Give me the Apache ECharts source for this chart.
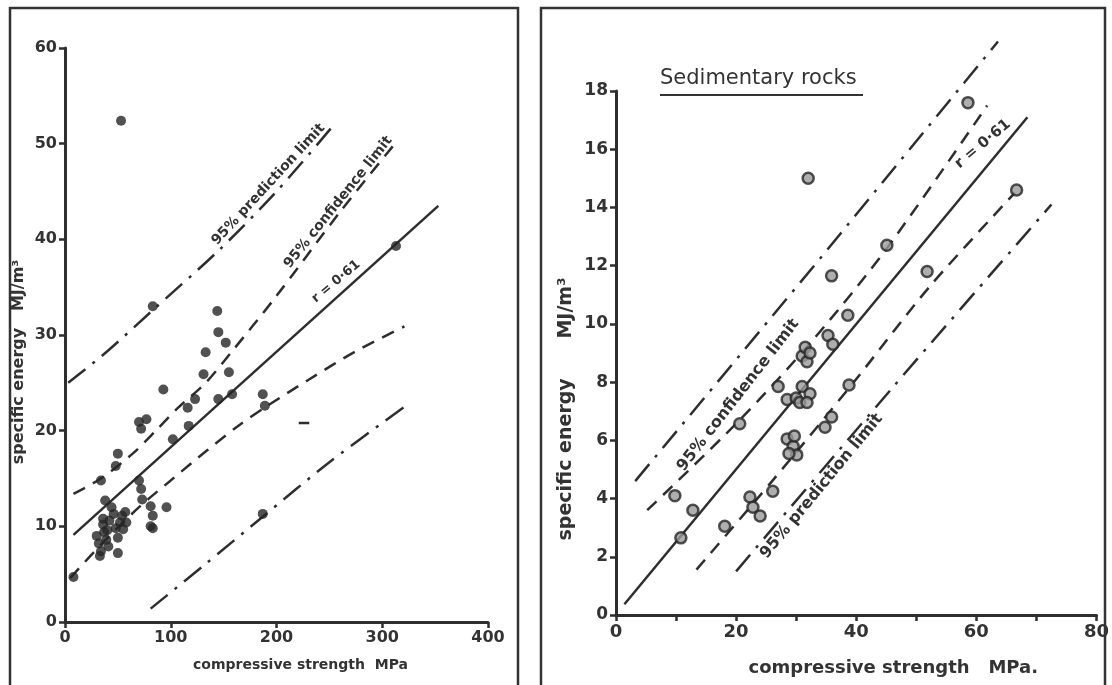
<!DOCTYPE html>
<html>
<head>
<meta charset="utf-8">
<script src="https://cdn.jsdelivr.net/npm/echarts@6/dist/echarts.min.js"></script>
<style>
  html, body { margin: 0; background: #fff; }
  #chart { width: 1112px; height: 685px; }
</style>
</head>
<body>
<div id="chart"></div>
<script>
// ---- left panel: all rocks ----
const allPoints = [
  [8, 4.7], [34, 14.8], [48, 16.3], [50, 17.6], [38, 12.7],
  [30, 9.0], [32, 8.2], [34, 7.4], [33, 6.9], [36, 10.2], [37, 9.4], [39, 8.6],
  [41, 7.9], [42, 10.6], [44, 12.0], [46, 11.3], [48, 9.8], [50, 8.8], [52, 10.4],
  [54, 11.1], [55, 9.7], [57, 11.5], [58, 10.4], [50, 7.2], [36, 10.8], [40, 9.6],
  [70, 14.8], [72, 13.9], [73, 12.8], [70, 20.9], [77, 21.2], [72, 20.2],
  [81, 12.1], [83, 11.1], [81, 10.0], [83, 9.8], [96, 12.0], [93, 24.3],
  [102, 19.1], [116, 22.4], [123, 23.3], [117, 20.5], [133, 28.2], [131, 25.9],
  [144, 32.5], [145, 30.3], [152, 29.2], [145, 23.3], [155, 26.1], [158, 23.8],
  [187, 23.8], [189, 22.6], [187, 11.3], [83, 33.0], [53, 52.4], [313, 39.3]
];
const allFit = [[8, 9.1], [353, 43.5]];
const allConfHigh = [[8, 13.4], [34, 15.0], [64, 17.6], [86, 20.0], [106, 22.3], [133, 25.0],
  [158, 28.3], [198, 33.8], [261, 43.0], [312, 50.0]];
const allConfLow = [[5, 4.6], [35, 8.2], [70, 12.0], [100, 14.8], [135, 18.0], [165, 20.6],
  [190, 22.5], [230, 25.3], [275, 28.3], [321, 30.9]];
const allPredHigh = [[3, 25.0], [40, 28.3], [82, 32.5], [145, 38.8], [200, 45.0], [253, 51.8]];
const allPredLow = [[81, 1.4], [130, 5.8], [187, 11.0], [250, 16.7], [321, 22.5]];
const strayMark = [[221, 20.8], [231, 20.8]];

// ---- right panel: sedimentary rocks ----
const sedPoints = [
  [9.8, 4.1], [12.8, 3.6], [10.8, 2.65], [18.1, 3.05], [20.6, 6.57], [22.3, 4.05],
  [22.8, 3.7], [24.0, 3.4], [26.1, 4.25],
  [28.5, 6.05], [29.5, 5.8], [30.1, 5.5], [28.8, 5.55], [29.7, 6.15],
  [34.8, 6.45], [35.9, 6.8],
  [27.0, 7.85], [28.5, 7.4], [30.0, 7.45], [31.0, 7.85], [32.3, 7.6], [30.6, 7.3], [31.8, 7.3],
  [31.0, 8.9], [31.8, 8.7], [31.5, 9.2], [32.3, 9.0], [35.3, 9.6], [36.1, 9.3],
  [38.6, 10.3], [38.8, 7.9], [35.9, 11.65], [45.1, 12.7], [51.8, 11.8],
  [32.0, 15.0], [66.7, 14.6], [58.6, 17.6]
];
const sedFit = [[1.4, 0.37], [68.5, 17.1]];
const sedConfHigh = [[5.2, 3.6], [20.6, 6.7], [33, 9.5], [45.1, 12.6], [61.8, 17.5]];
const sedConfLow = [[13.4, 1.56], [26, 4.6], [39.4, 7.95], [52.3, 11.3], [66.4, 14.5]];
const sedPredHigh = [[3.2, 4.6], [33, 12.0], [63.6, 19.7]];
const sedPredLow = [[20, 1.5], [46, 7.8], [72.5, 14.1]];

const ink = '#2e2e2e';
const font = 'DejaVu Sans';
const dashed = [13, 9];
const dashDot = [22, 9, 3, 9];

function valueAxis(grid, min, max, interval, labelSize, extra) {
  return Object.assign({
    type: 'value', gridIndex: grid, min: min, max: max, interval: interval,
    splitLine: { show: false },
    axisLine: { show: true, onZero: false, lineStyle: { color: ink, width: 3 } },
    axisTick: { show: true, length: 6, lineStyle: { color: ink, width: 2.5 } },
    axisLabel: { color: '#333', fontFamily: font, fontWeight: 'bold', fontSize: labelSize, margin: 8 }
  }, extra);
}

function line(grid, data, type, smooth) {
  return {
    type: 'line', xAxisIndex: grid, yAxisIndex: grid, data: data,
    symbol: 'none', smooth: smooth ? 0.3 : false, clip: false, silent: true,
    lineStyle: { color: ink, width: 2.5, type: type }
  };
}

const chart = echarts.init(document.getElementById('chart'));

chart.setOption({
  animation: false,
  backgroundColor: '#fff',
  grid: [
    { left: 65, top: 48, width: 423, height: 574 },
    { left: 616, top: 91, width: 481, height: 524 }
  ],
  xAxis: [
    valueAxis(0, 0, 400, 100, 16, {
      name: 'compressive strength  MPa', nameLocation: 'middle', nameGap: 36,
      nameTextStyle: { color: '#333', fontFamily: font, fontWeight: 'bold', fontSize: 14, padding: [0, 0, 0, 48] }
    }),
    valueAxis(1, 0, 80, 10, 18, {
      name: 'compressive strength   MPa.', nameLocation: 'middle', nameGap: 44,
      nameTextStyle: { color: '#333', fontFamily: font, fontWeight: 'bold', fontSize: 18, padding: [0, 0, 0, 74] },
      axisLabel: {
        color: '#333', fontFamily: font, fontWeight: 'bold', fontSize: 18, margin: 8,
        formatter: function (v) { return v % 20 === 0 ? String(v) : ''; }
      }
    })
  ],
  yAxis: [
    valueAxis(0, 0, 60, 10, 16, {
      name: 'specific energy   MJ/m³', nameLocation: 'middle', nameGap: 38,
      nameTextStyle: { color: '#333', fontFamily: font, fontWeight: 'bold', fontSize: 16, padding: [0, 54, 0, 0] }
    }),
    valueAxis(1, 0, 18, 2, 17, {
      name: 'specific energy      MJ/m³', nameLocation: 'middle', nameGap: 40,
      nameTextStyle: { color: '#333', fontFamily: font, fontWeight: 'bold', fontSize: 19, padding: [0, 112, 0, 0] }
    })
  ],
  series: [
    line(0, allFit, 'solid', false),
    line(0, allConfHigh, dashed, true),
    line(0, allConfLow, dashed, true),
    line(0, allPredHigh, dashDot, true),
    line(0, allPredLow, dashDot, true),
    line(0, strayMark, 'solid', false),
    {
      type: 'scatter', xAxisIndex: 0, yAxisIndex: 0, data: allPoints, z: 5,
      symbol: 'circle', symbolSize: 10, itemStyle: { color: '#262626' }
    },
    line(1, sedFit, 'solid', false),
    line(1, sedConfHigh, dashed, true),
    line(1, sedConfLow, dashed, true),
    line(1, sedPredHigh, dashDot, false),
    line(1, sedPredLow, dashDot, true),
    {
      type: 'scatter', xAxisIndex: 1, yAxisIndex: 1, data: sedPoints, z: 5,
      symbol: 'circle', symbolSize: 11,
      itemStyle: { color: '#9a9a9a', borderColor: '#262626', borderWidth: 2.5 }
    }
  ]
});

// rotated labels that sit on their lines; angle taken from the line itself
function lineLabel(grid, text, at, along, size) {
  const p = chart.convertToPixel({ gridIndex: grid }, at);
  const q = chart.convertToPixel({ gridIndex: grid }, along);
  return {
    type: 'text', x: p[0], y: p[1] - 1, z: 10,
    rotation: Math.atan2(p[1] - q[1], q[0] - p[0]),
    style: {
      text: text, fill: '#333', align: 'left', verticalAlign: 'bottom',
      font: 'bold ' + size + 'px "' + font + '"'
    }
  };
}

chart.setOption({
  graphic: [
    { type: 'rect', shape: { x: 10, y: 8, width: 508, height: 700 },
      style: { fill: 'none', stroke: '#333', lineWidth: 2.5 }, silent: true },
    { type: 'rect', shape: { x: 541, y: 8, width: 564, height: 700 },
      style: { fill: 'none', stroke: '#333', lineWidth: 2.5 }, silent: true },
    { type: 'text', x: 660, y: 89, style: {
        text: 'Sedimentary rocks', fill: '#333', align: 'left', verticalAlign: 'bottom',
        font: '21px "' + font + '"' } },
    { type: 'line', shape: { x1: 660, y1: 95, x2: 863, y2: 95 },
      style: { stroke: '#333', lineWidth: 2 } },
    lineLabel(0, '95% prediction limit', [146, 39.0], allPredHigh[5], 14),
    lineLabel(0, '95% confidence limit', [215, 36.6], allConfHigh[9], 14),
    lineLabel(0, 'r = 0·61', [239, 33.0], allFit[1], 13),
    lineLabel(1, '95% confidence limit', [11.8, 4.8], [31.8, 10.1], 16),
    lineLabel(1, '95% prediction limit', [25.6, 1.8], [46, 6.9], 16),
    lineLabel(1, 'r = 0·61', [57.6, 15.2], sedFit[1], 15)
  ]
});
</script>
</body>
</html>
